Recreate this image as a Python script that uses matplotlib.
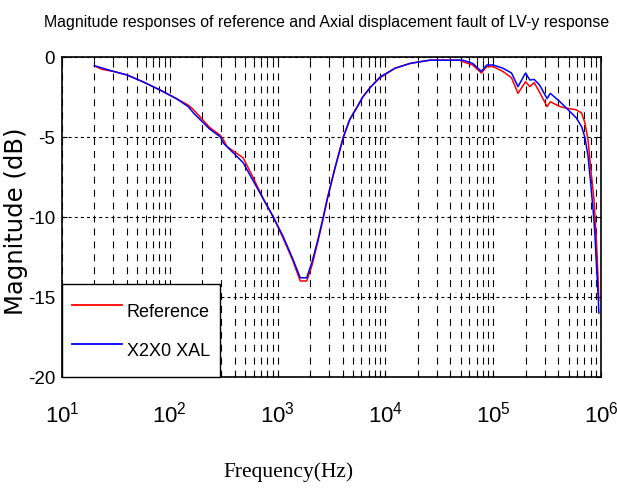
import matplotlib
matplotlib.use("Agg")
import matplotlib.pyplot as plt
from matplotlib.ticker import LogLocator, FixedLocator, NullFormatter

# ---- data ----
freq_hz = [20, 23.4, 30, 40, 56, 81, 115, 148, 166, 234, 295, 316, 339, 479, 589,
           741, 912, 1122, 1380, 1622, 1862, 2089, 2371, 2630, 2884, 3388, 4074,
           4677, 5495, 6166, 7244, 8913, 12300, 16980, 25700, 48980, 52480, 64570,
           77620, 87100, 100000, 123000, 147900, 169800, 199500, 218800, 239900,
           269200, 316200, 338800, 416900, 478600, 588800, 660700, 707900, 758600,
           812800, 861000, 881000, 901000, 923000, 944000, 955000]
reference_db = [-0.55, -0.77, -0.9, -1.12, -1.54, -2.06, -2.6, -3.0, -3.3, -4.4, -4.9,
                -5.2, -5.6, -6.3, -7.5, -8.9, -10.0, -11.3, -12.7, -14.0, -14.0, -13.0,
                -11.5, -10.2, -8.9, -7.0, -5.0, -3.9, -3.1, -2.5, -1.9, -1.3, -0.7,
                -0.4, -0.2, -0.2, -0.3, -0.5, -1.0, -0.6, -0.6, -0.9, -1.3, -2.27,
                -1.55, -1.85, -1.6, -2.2, -3.1, -2.8, -3.1, -3.2, -3.3, -3.5, -4.1,
                -5.2, -7.3, -8.9, -10.0, -11.2, -12.6, -14.2, -15.2]
fault_db = [-0.55, -0.68, -0.9, -1.12, -1.54, -2.06, -2.6, -3.1, -3.5, -4.5, -5.0,
            -5.4, -5.6, -6.6, -7.7, -8.9, -10.0, -11.2, -12.6, -13.8, -13.8, -12.8,
            -11.4, -10.1, -8.9, -7.0, -5.0, -3.9, -3.1, -2.5, -1.9, -1.25, -0.7,
            -0.4, -0.2, -0.2, -0.2, -0.4, -0.9, -0.5, -0.5, -0.7, -1.0, -1.85,
            -1.0, -1.44, -1.4, -1.75, -2.6, -2.27, -2.8, -3.2, -3.8, -4.35, -5.0,
            -6.2, -8.3, -10.2, -11.3, -12.6, -13.9, -15.1, -16.0]
series_labels = ["Reference", "X2X0 XAL"]
y_ticks = [-20, -15, -10, -5, 0]

title_text = "Magnitude responses of reference and Axial displacement fault of LV-y response"
x_label = "Frequency(Hz)"
y_label = "Magnitude (dB)"

sans = ["Liberation Sans"]
plt.rcParams["lines.scale_dashes"] = False
plt.rcParams["axes.unicode_minus"] = False
plt.rcParams["mathtext.fontset"] = "custom"
plt.rcParams["mathtext.rm"] = "Liberation Sans"
plt.rcParams["mathtext.it"] = "Liberation Sans"
plt.rcParams["font.family"] = sans

fig = plt.figure(figsize=(6.17, 4.93), dpi=100)
ax = fig.add_axes([62 / 617, 1 - 377 / 493, (601 - 62) / 617, (377 - 57) / 493])

ax.plot(freq_hz, reference_db, color="#ff0000", lw=1.1, label=series_labels[0], zorder=3)
ax.plot(freq_hz, fault_db, color="#0000ff", lw=1.1, label=series_labels[1], zorder=4)

ax.set_xscale("log")
ax.set_xlim(1e1, 1e6)
ax.set_ylim(-20, 0)
ax.xaxis.set_major_locator(LogLocator(base=10, numticks=10))
ax.xaxis.set_minor_locator(LogLocator(base=10, subs=range(2, 10), numticks=100))
ax.xaxis.set_minor_formatter(NullFormatter())
ax.yaxis.set_major_locator(FixedLocator(y_ticks))

ax.xaxis.grid(True, which="both", color="black", lw=0.8, linestyle=(0, (5, 4.3)))
ax.yaxis.grid(True, which="major", color="black", lw=0.8, linestyle=(0, (2.2, 2.2)))
ax.set_axisbelow(True)

for s in ax.spines.values():
    s.set_linewidth(1.2)
ax.tick_params(which="both", direction="in", top=True, right=True, width=0.8)
ax.tick_params(which="major", length=3.5)
ax.tick_params(which="minor", length=2)
ax.tick_params(axis="x", which="major", labelsize=16, pad=18)
ax.tick_params(axis="y", which="major", labelsize=13.5, pad=5)

fig.text(327 / 617, 1 - 23 / 493, title_text, fontsize=11.4, ha="center", va="center",
         fontfamily=sans)
ax.set_xlabel(x_label, fontsize=15.5, fontfamily=["Liberation Serif"])
ax.xaxis.set_label_coords((288 - 62) / 539, -(472 - 377) / 320)
ax.xaxis.label.set_va("center")
ax.set_ylabel(y_label, fontsize=17.5, fontfamily=["DejaVu Sans"])
ax.yaxis.set_label_coords((16 - 62) / 539, (377 - 221) / 320)
ax.yaxis.label.set_va("center")

leg = ax.legend(loc="lower left", borderaxespad=0, fancybox=False, framealpha=1,
                edgecolor="black", fontsize=13, handlelength=2.75, handleheight=2.5,
                handletextpad=0.28, labelspacing=0.3, borderpad=0.55)
leg.get_frame().set_linewidth(1.0)
for ln in leg.get_lines():
    ln.set_linewidth(1.3)

fig.savefig("out.png", dpi=100)
